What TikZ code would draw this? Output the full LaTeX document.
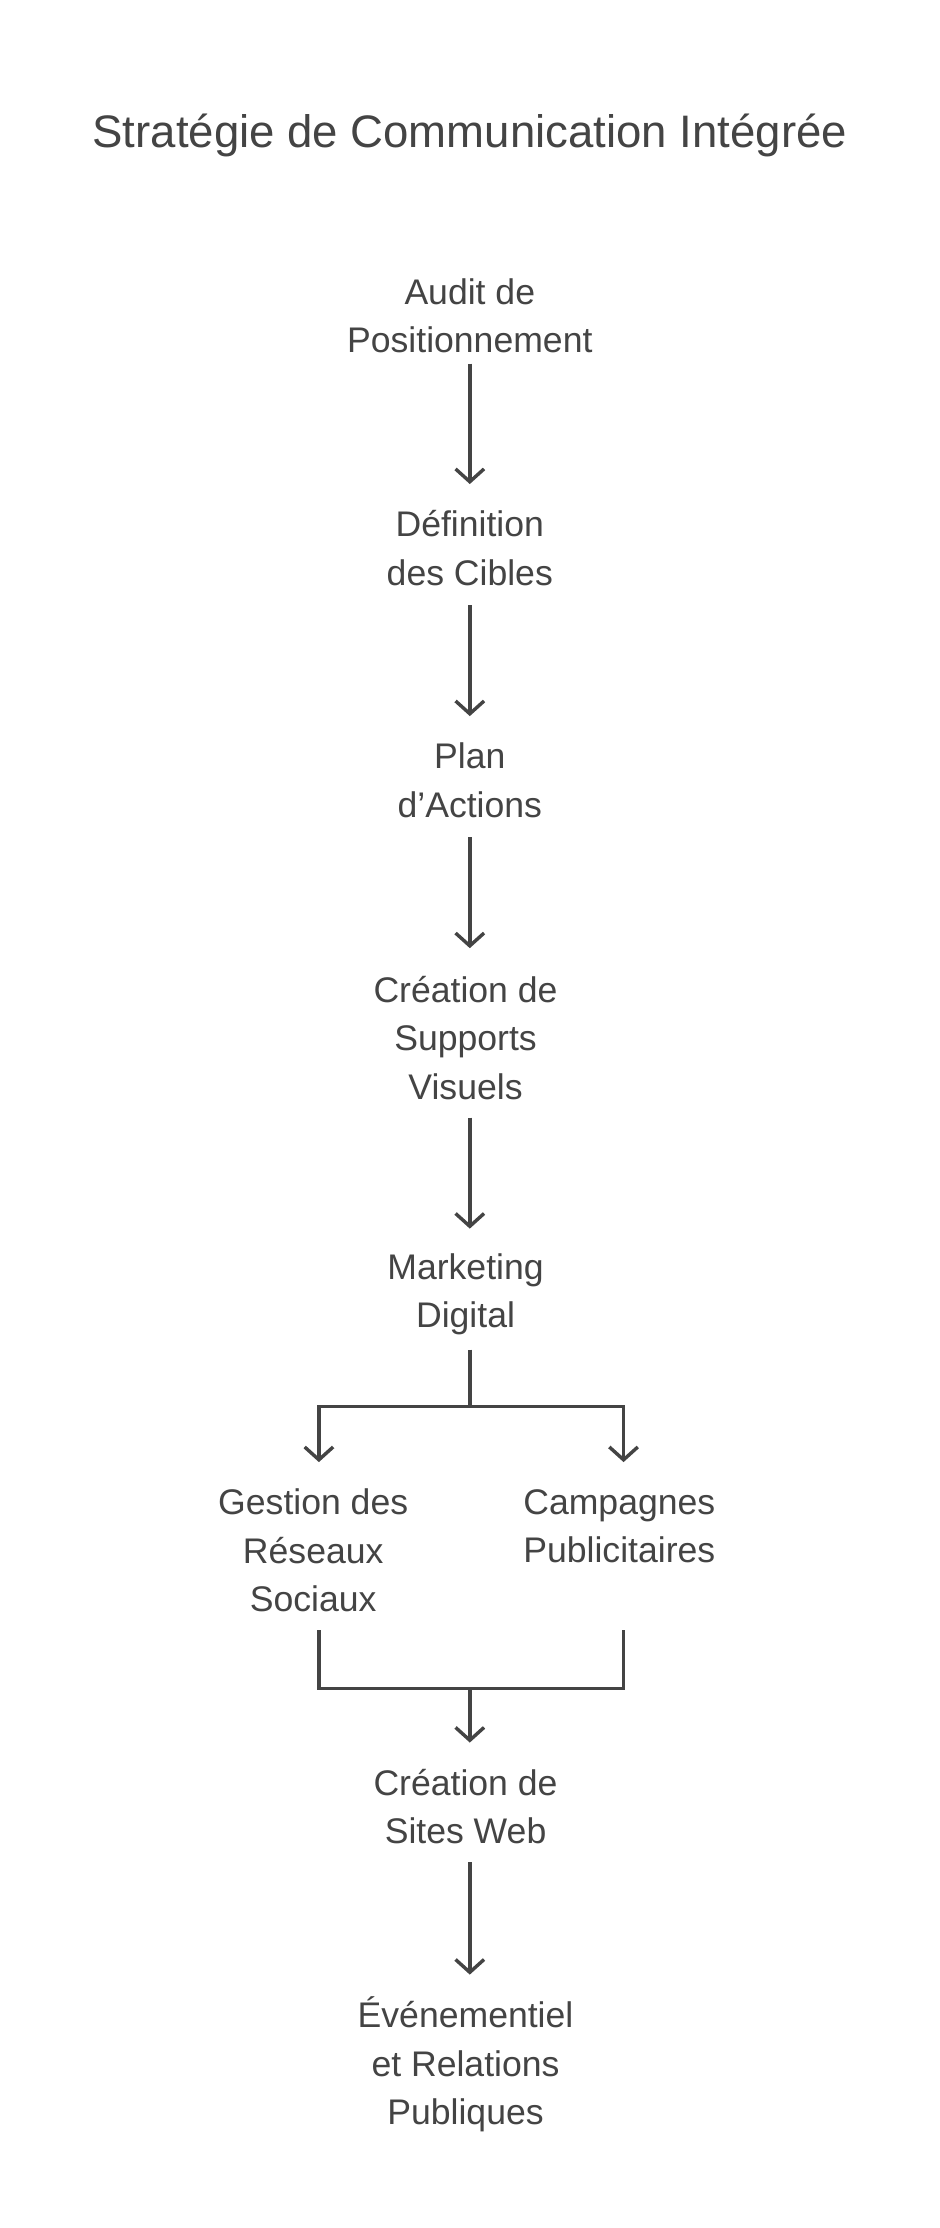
\documentclass[tikz,border=0pt]{standalone}
\usepackage{fontspec}
\setmainfont{Liberation Sans}
\usetikzlibrary{arrows.meta,positioning}
\definecolor{inkgray}{RGB}{68,68,68}

\begin{document}
\begin{tikzpicture}[x=1pt,y=1pt, >={Straight Barb[length=9pt,width=20pt,line width=2.4pt]},
    every node/.style={text=inkgray, font=\fontsize{25}{34}\selectfont, align=center, inner sep=6pt},
    link/.style={draw=inkgray, line width=2.4pt},
    title/.style={font=\fontsize{32}{38}\selectfont}]
        \fill[white] (0,0) rectangle (660,-1565);
        \useasboundingbox (0,0) rectangle (660,-1565);
        \node[title]   (titre) at (330,-95)   {Stratégie de Communication Intégrée};
        \node          (audit) at (330,-222)  {Audit de\\Positionnement};
        \node          (cibles) at (330,-385) {Définition\\des Cibles};
        \node          (plan) at (330,-548)   {Plan\\d'Actions};
        \node          (visuels) at (327,-729) {Création de\\Supports\\Visuels};
        \node          (digital) at (327,-909) {Marketing\\Digital};
        \node          (reseaux) at (220,-1089) {Gestion des\\Réseaux\\Sociaux};
        \node          (pub) at (435,-1072)   {Campagnes\\Publicitaires};
        \node          (web) at (327,-1269)   {Création de\\Sites Web};
        \node          (event) at (327,-1450) {Événementiel\\et Relations\\Publiques};

        \coordinate (split) at (330,-988);
        \coordinate (join) at (330,-1186);

        \draw[link,->] (audit.south -| 330,0) ++(0,-1) -- (330,-340);
        \draw[link,->] (330,-425) -- (330,-503);
        \draw[link,->] (330,-588) -- (330,-666);
        \draw[link,->] (330,-785) -- (330,-863);
        \draw[link] (330,-948) -- (split);
        \draw[link,->] (split) -| (224,-1027);
        \draw[link,->] (split) -| (438,-1027);
        \draw[link] (224,-1145) |- (join);
        \draw[link] (438,-1145) |- (join);
        \draw[link,->] (join) -- (330,-1224);
        \draw[link,->] (330,-1308) -- (330,-1387);
\end{tikzpicture}
\end{document}
